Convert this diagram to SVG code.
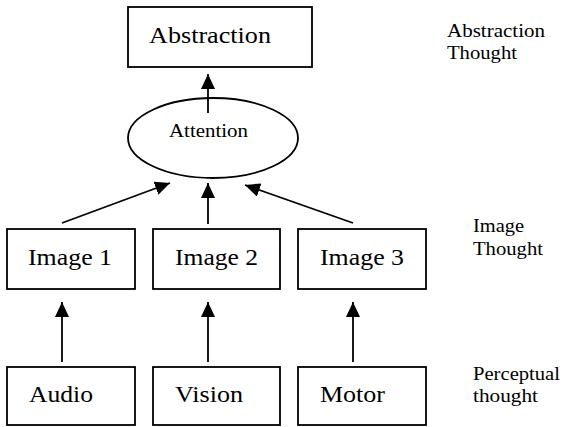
<svg xmlns="http://www.w3.org/2000/svg" width="564" height="427" viewBox="0 0 564 427">
  <style>
    .box { fill: #fff; stroke: #000; stroke-width: 1.8; }
    text { font-family: 'Liberation Serif', 'Times New Roman', Times, serif; fill: #000; }
    .big { font-size: 23px; }
    .small { font-size: 18px; }
    .edge { stroke: #000; stroke-width: 1.8; fill: none; marker-end: url(#arrow); }
  </style>
  <defs>
    <marker id="arrow" markerUnits="userSpaceOnUse" markerWidth="16" markerHeight="15" refX="15" refY="7" orient="auto">
      <path d="M0,0 L15,7 L0,14 Z" fill="#000"/>
    </marker>
  </defs>
  <rect width="564" height="427" fill="#fff"/>

  <g id="abstraction">
    <rect class="box" x="128" y="7" width="184" height="60"/>
    <text class="big" x="149" y="43" textLength="122" lengthAdjust="spacingAndGlyphs">Abstraction</text>
  </g>
  <g id="attention">
    <ellipse class="box" cx="213" cy="138" rx="85" ry="40"/>
    <text class="small" x="169" y="137" textLength="79" lengthAdjust="spacingAndGlyphs">Attention</text>
  </g>
  <g id="image1">
    <rect class="box" x="7" y="229" width="128" height="60"/>
    <text class="big" x="28" y="265" textLength="84" lengthAdjust="spacingAndGlyphs">Image 1</text>
  </g>
  <g id="image2">
    <rect class="box" x="153" y="229" width="127" height="60"/>
    <text class="big" x="175" y="265" textLength="83" lengthAdjust="spacingAndGlyphs">Image 2</text>
  </g>
  <g id="image3">
    <rect class="box" x="298" y="229" width="128" height="60"/>
    <text class="big" x="320" y="265" textLength="84" lengthAdjust="spacingAndGlyphs">Image 3</text>
  </g>
  <g id="audio">
    <rect class="box" x="7" y="367" width="128" height="58"/>
    <text class="big" x="29" y="402" textLength="64" lengthAdjust="spacingAndGlyphs">Audio</text>
  </g>
  <g id="vision">
    <rect class="box" x="153" y="367" width="127" height="58"/>
    <text class="big" x="175" y="402" textLength="68" lengthAdjust="spacingAndGlyphs">Vision</text>
  </g>
  <g id="motor">
    <rect class="box" x="298" y="367" width="128" height="58"/>
    <text class="big" x="320" y="402" textLength="65" lengthAdjust="spacingAndGlyphs">Motor</text>
  </g>

  <g id="connectors">
    <line class="edge" x1="208" y1="113" x2="208" y2="74"/>
    <line class="edge" x1="62" y1="223" x2="170" y2="183"/>
    <line class="edge" x1="208" y1="224" x2="208" y2="183"/>
    <line class="edge" x1="353" y1="223" x2="245" y2="185"/>
    <line class="edge" x1="62" y1="362" x2="62" y2="302"/>
    <line class="edge" x1="208" y1="362" x2="208" y2="302"/>
    <line class="edge" x1="353" y1="362" x2="353" y2="302"/>
  </g>

  <g id="level-labels">
    <text class="small" x="447" y="37" textLength="98" lengthAdjust="spacingAndGlyphs">Abstraction</text>
    <text class="small" x="447" y="59" textLength="70" lengthAdjust="spacingAndGlyphs">Thought</text>
    <text class="small" x="473" y="232" textLength="51" lengthAdjust="spacingAndGlyphs">Image</text>
    <text class="small" x="473" y="255" textLength="70" lengthAdjust="spacingAndGlyphs">Thought</text>
    <text class="small" x="473" y="380" textLength="87" lengthAdjust="spacingAndGlyphs">Perceptual</text>
    <text class="small" x="473" y="402" textLength="65" lengthAdjust="spacingAndGlyphs">thought</text>
  </g>
</svg>
